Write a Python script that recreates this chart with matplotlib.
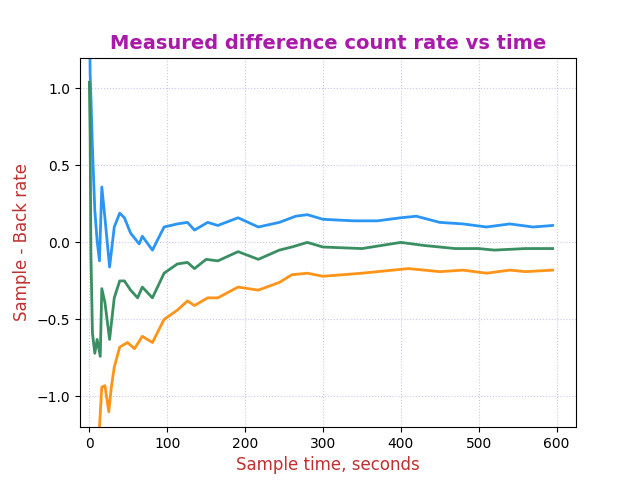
import matplotlib
matplotlib.use("Agg")
import matplotlib.pyplot as plt

# Sample times (s) and read-off values for each curve
t_blue = [0, 1, 2, 4, 7, 10, 13, 16, 20, 26, 32, 39, 45, 53, 64, 68, 81, 96, 113, 126,
          135, 152, 165, 191, 217, 244, 265, 280, 300, 340, 370, 400, 420, 450, 480,
          510, 540, 570, 595]
blue = [1.6, 1.1, 0.95, 0.61, 0.21, 0.01, -0.12, 0.36, 0.16, -0.16, 0.10, 0.19, 0.16,
        0.06, -0.01, 0.04, -0.05, 0.10, 0.12, 0.13, 0.08, 0.13, 0.11, 0.16, 0.10, 0.13,
        0.17, 0.18, 0.15, 0.14, 0.14, 0.16, 0.17, 0.13, 0.12, 0.10, 0.12, 0.10, 0.11]

t_green = [0, 1, 2, 4, 7, 10, 14, 16, 20, 26, 32, 39, 45, 53, 62, 68, 81, 96, 113, 126,
           135, 150, 165, 191, 217, 244, 260, 280, 300, 350, 400, 430, 470, 500, 520,
           560, 595]
green = [1.04, 0.7, -0.07, -0.59, -0.72, -0.63, -0.74, -0.30, -0.39, -0.63, -0.36,
         -0.25, -0.25, -0.31, -0.36, -0.29, -0.36, -0.20, -0.14, -0.13, -0.17, -0.11,
         -0.12, -0.06, -0.11, -0.05, -0.03, 0.00, -0.03, -0.04, 0.00, -0.02, -0.04,
         -0.04, -0.05, -0.04, -0.04]

t_orange = [1, 6, 11, 13, 16, 20, 25, 28, 32, 39, 49, 58, 68, 81, 96, 113, 126, 135,
            152, 165, 191, 217, 244, 260, 280, 300, 350, 410, 450, 480, 510, 540, 560,
            595]
orange = [-2.0, -1.7, -1.4, -1.2, -0.94, -0.93, -1.10, -0.95, -0.81, -0.68, -0.65,
          -0.69, -0.61, -0.65, -0.50, -0.44, -0.38, -0.41, -0.36, -0.36, -0.29, -0.31,
          -0.26, -0.21, -0.20, -0.22, -0.20, -0.17, -0.19, -0.18, -0.20, -0.18, -0.19,
          -0.18]

fig, ax = plt.subplots(figsize=(6.4, 4.8), dpi=100)

ax.plot(t_blue, blue, color='#2b95f5', lw=2)
ax.plot(t_green, green, color='#3a8f62', lw=2)
ax.plot(t_orange, orange, color='#ff9419', lw=2)

ax.set_xlim(-12, 625)
ax.set_ylim(-1.2, 1.2)
ax.set_yticks([-1.0, -0.5, 0.0, 0.5, 1.0])
ax.grid(True, linestyle=':', color='#c8c8f0')

ax.set_title('Measured difference count rate vs time', color='#aa1aaa',
             fontweight='bold', fontsize=14)
ax.set_xlabel('Sample time, seconds', color='#c03030', fontsize=12)
ax.set_ylabel('Sample - Back rate', color='#c03030', fontsize=12)

fig.savefig('out.png')
